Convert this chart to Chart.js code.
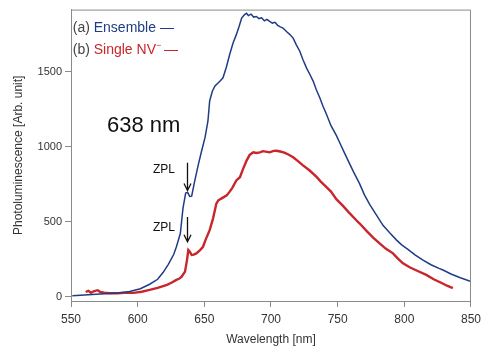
<!DOCTYPE html>
<html>
<head>
<meta charset="utf-8">
<script src="https://cdn.jsdelivr.net/npm/chart.js@4/dist/chart.umd.min.js"></script>
<style>
  html, body { margin: 0; padding: 0; background: #fff; }
  #wrap { width: 486px; height: 351px; }
</style>
</head>
<body>
<div id="wrap"><canvas id="plChart" width="486" height="351"></canvas></div>
<script>
// (a) ensemble spectrum
const ensembleNm = [551, 560, 572, 585, 594, 602, 609, 615, 619, 623, 627, 629, 632, 634, 636, 637.5, 639, 640.5, 643, 645.5, 648, 650.5, 652.7, 654, 656, 658, 660.5, 662, 664, 666.5, 669, 671.5, 674, 676, 678, 680, 681.7, 683, 685, 687, 689, 691, 693, 695, 697, 699, 701, 703, 705, 707, 709, 712, 714, 716.6, 719, 721.6, 724, 726.6, 729, 731.6, 734, 736.6, 739, 741.6, 745, 749, 752, 755, 759, 762, 766.5, 770, 774, 779, 784, 789, 794, 798, 802.7, 808, 814, 820, 826, 829, 835, 842, 850];
const ensembleVal = [5, 10, 16, 24, 33, 52, 82, 115, 160, 215, 280, 330, 420, 590, 690, 695, 668, 670, 780, 880, 973, 1060, 1170, 1305, 1370, 1405, 1427, 1440, 1460, 1530, 1615, 1690, 1748, 1800, 1858, 1880, 1891, 1875, 1885, 1865, 1869, 1855, 1860, 1840, 1850, 1836, 1825, 1830, 1810, 1800, 1792, 1765, 1750, 1725, 1680, 1637, 1580, 1526, 1485, 1438, 1380, 1327, 1270, 1217, 1140, 1075, 1018, 960, 885, 830, 752, 680, 615, 545, 475, 425, 378, 345, 315, 278, 243, 212, 188, 177, 150, 125, 100];

// (b) single NV- spectrum
const singleNm = [561, 563, 565, 567, 570, 572, 575, 579, 585, 590, 597, 603, 609, 615, 622, 626, 629, 631, 633, 635.5, 637, 638, 639, 640.5, 642, 644, 646.8, 649, 651, 654, 656.5, 659, 660.5, 663, 666.8, 669, 671, 674, 676.7, 679, 681.7, 684, 686.7, 689, 691.7, 694, 697, 699, 702, 704, 707, 710, 713, 716.6, 720, 724, 729, 734, 737, 741.6, 745, 749, 754, 758, 764, 766.5, 772, 777, 781.5, 786, 791.5, 795, 799, 804, 810, 816.5, 822, 828, 832, 836.4];
const singleVal = [30, 38, 25, 35, 42, 30, 25, 22, 22, 24, 24, 32, 44, 58, 78, 95, 111, 118, 133, 166, 243, 310, 300, 277, 280, 288, 310, 332, 380, 443, 520, 620, 642, 655, 675, 700, 725, 775, 796, 850, 907, 945, 962, 958, 962, 970, 965, 962, 972, 973, 968, 960, 948, 929, 905, 875, 841, 800, 770, 730, 700, 650, 605, 565, 509, 487, 435, 390, 354, 320, 288, 255, 221, 195, 170, 144, 115, 90, 72, 56];

const xTicks = [550, 600, 650, 700, 750, 800, 850];
const yTicks = [0, 500, 1000, 1500];

const blue = '#1f3c85';
const red = '#c9262b';
const frame = '#8a8a8a';
const textCol = '#333';
const FONT = '"Liberation Sans", Arial, sans-serif';

function toPoints(xs, ys) {
  return xs.map((x, i) => ({ x: x, y: ys[i] }));
}

// labels, arrows and the box round the plot
const notes = {
  id: 'notes',
  afterDraw(chart) {
    const ctx = chart.ctx;
    const xs = chart.scales.x, ys = chart.scales.y;
    const a = chart.chartArea;
    ctx.save();
    ctx.strokeStyle = frame;
    ctx.lineWidth = 1;
    ctx.beginPath();
    ctx.moveTo(a.left, a.top + 0.5);
    ctx.lineTo(a.right - 0.5, a.top + 0.5);
    ctx.lineTo(a.right - 0.5, a.bottom);
    ctx.stroke();

    // legend
    ctx.font = '14px ' + FONT;
    ctx.textBaseline = 'middle';
    let lx = xs.getPixelForValue(551.3);
    let ly = ys.getPixelForValue(1792);
    ctx.fillStyle = '#444';
    ctx.fillText('(a) ', lx, ly);
    let w = ctx.measureText('(a) ').width;
    ctx.fillStyle = blue;
    ctx.fillText('Ensemble \u2014', lx + w, ly);
    ly = ys.getPixelForValue(1644);
    ctx.fillStyle = '#444';
    ctx.fillText('(b) ', lx, ly);
    w = ctx.measureText('(b) ').width;
    ctx.fillStyle = red;
    ctx.fillText('Single NV', lx + w, ly);
    const w2 = ctx.measureText('Single NV').width;
    ctx.font = '9px ' + FONT;
    ctx.fillText('\u2212', lx + w + w2, ly - 5);
    ctx.font = '14px ' + FONT;
    ctx.fillText(' \u2014', lx + w + w2 + 4, ly);

    // 638 nm
    ctx.fillStyle = '#111';
    ctx.font = '22px ' + FONT;
    ctx.fillText('638 nm', xs.getPixelForValue(577), ys.getPixelForValue(1139));

    // ZPL labels and arrows
    ctx.font = '12px ' + FONT;
    ctx.textAlign = 'right';
    ctx.fillText('ZPL', xs.getPixelForValue(628), ys.getPixelForValue(847));
    ctx.fillText('ZPL', xs.getPixelForValue(628), ys.getPixelForValue(462));
    const ax = Math.round(xs.getPixelForValue(637.2)) + 0.5;
    [[892, 707], [531, 365]].forEach(([v0, v1]) => {
      const y0 = ys.getPixelForValue(v0), y1 = ys.getPixelForValue(v1);
      ctx.strokeStyle = '#111';
      ctx.lineWidth = 1.3;
      ctx.beginPath();
      ctx.moveTo(ax, y0);
      ctx.lineTo(ax, y1);
      ctx.moveTo(ax - 3.5, y1 - 7);
      ctx.lineTo(ax, y1);
      ctx.lineTo(ax + 3.5, y1 - 7);
      ctx.stroke();
    });
    ctx.restore();
  }
};

new Chart(document.getElementById('plChart').getContext('2d'), {
  type: 'scatter',
  data: {
    datasets: [
      {
        label: 'Ensemble',
        data: toPoints(ensembleNm, ensembleVal),
        showLine: true,
        borderColor: blue,
        borderWidth: 1.5,
        pointRadius: 0,
        tension: 0
      },
      {
        label: 'Single NV-',
        data: toPoints(singleNm, singleVal),
        showLine: true,
        borderColor: red,
        borderWidth: 2.4,
        pointRadius: 0,
        tension: 0
      }
    ]
  },
  options: {
    responsive: false,
    animation: false,
    layout: { padding: { top: 8, right: 14, left: 0, bottom: 0 } },
    plugins: { legend: { display: false }, tooltip: { enabled: false } },
    scales: {
      x: {
        type: 'linear',
        min: 550,
        max: 850,
        afterBuildTicks: s => { s.ticks = xTicks.map(v => ({ value: v })); },
        afterFit: s => { s.height = 50; },
        grid: { drawOnChartArea: false, drawTicks: true, tickLength: 6, color: frame },
        border: { color: frame, width: 1 },
        ticks: { color: textCol, padding: 5, callback: v => String(v), font: { family: FONT, size: 12 } },
        title: { display: true, text: 'Wavelength [nm]', color: textCol, padding: { top: 0, bottom: 4 }, font: { family: FONT, size: 12 } }
      },
      y: {
        type: 'linear',
        min: -30,
        max: 1915,
        afterBuildTicks: s => { s.ticks = yTicks.map(v => ({ value: v })); },
        afterFit: s => { s.width = 71; },
        grid: { drawOnChartArea: false, drawTicks: true, tickLength: 6, color: frame },
        border: { color: frame, width: 1 },
        ticks: { color: textCol, padding: 3, callback: v => String(v), font: { family: FONT, size: 11 } },
        title: { display: true, text: 'Photoluminescence [Arb. unit]', color: textCol, padding: { top: 11, bottom: 0 }, font: { family: FONT, size: 12 } }
      }
    }
  },
  plugins: [notes]
});
</script>
</body>
</html>
